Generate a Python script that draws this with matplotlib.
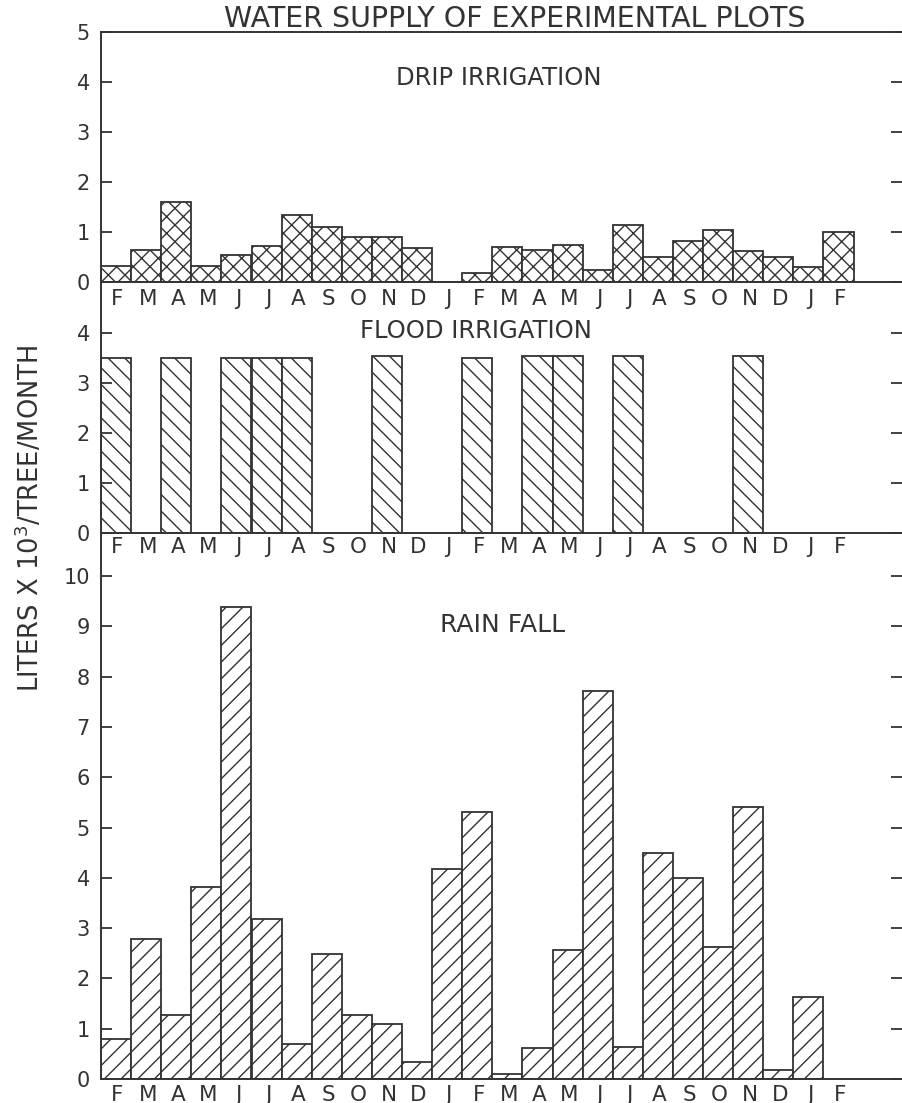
import numpy as np
import matplotlib
matplotlib.use("Agg")
import matplotlib.pyplot as plt

# ---------------- data ----------------
months = ["F", "M", "A", "M", "J", "J", "A", "S", "O", "N", "D", "J",
          "F", "M", "A", "M", "J", "J", "A", "S", "O", "N", "D", "J", "F"]

drip = [0.32, 0.64, 1.60, 0.32, 0.55, 0.73, 1.34, 1.11, 0.91, 0.91, 0.68, 0.0,
        0.19, 0.71, 0.65, 0.75, 0.25, 1.14, 0.50, 0.83, 1.05, 0.63, 0.51, 0.31, 1.00]

flood_idx = [0, 2, 4, 5, 6, 9, 12, 14, 15, 17, 21]
flood_val = [3.5, 3.5, 3.5, 3.5, 3.5, 3.55, 3.5, 3.55, 3.55, 3.55, 3.55]

rain = [0.80, 2.78, 1.28, 3.81, 9.39, 3.18, 0.69, 2.48, 1.28, 1.09, 0.33, 4.18,
        5.30, 0.09, 0.62, 2.56, 7.72, 0.63, 4.49, 4.00, 2.63, 5.41, 0.17, 1.63]

# ---------------- style ----------------
INK = "#333333"
plt.rcParams["font.family"] = ["DejaVu Sans"]
plt.rcParams["hatch.linewidth"] = 1.0
plt.rcParams["axes.linewidth"] = 1.4

W, H = 902, 1103
fig = plt.figure(figsize=(W / 100, H / 100), dpi=100)

left_px, right_px = 101, 902
bar_px = 30.1
xmax = (right_px - left_px) / bar_px


def make_ax(top_px, bot_px, ymax, xpad):
    ax = fig.add_axes([left_px / W, 1 - bot_px / H,
                       (right_px - left_px) / W, (bot_px - top_px) / H])
    ax.set_xlim(0, xmax)
    ax.set_ylim(0, ymax)
    ax.spines["right"].set_visible(False)
    ax.spines["top"].set_visible(False)
    for s in ax.spines.values():
        s.set_color(INK)
    ax.set_xticks(np.arange(len(months)) + 0.55)
    ax.set_xticklabels(months)
    ax.tick_params(axis="x", length=0, pad=xpad, labelsize=15.5, colors=INK)
    ax.tick_params(axis="y", which="major", direction="in", left=True,
                   right=True, length=8, width=1.3, colors=INK,
                   labelsize=15, pad=8)
    ax.patch.set_alpha(0)
    return ax


# Drip irrigation
ax1 = make_ax(32, 282, 5.0, 5)
ax1.spines["top"].set_visible(True)
ax1.set_yticks(range(0, 6))
ax1.bar(np.arange(len(drip)), drip, width=1.0, align="edge",
        facecolor="white", edgecolor=INK, linewidth=1.3, hatch="xx")
fig.text(499 / W, 1 - 85 / H, "DRIP IRRIGATION", ha="center", va="baseline",
         fontsize=17.5, color=INK)

# Flood irrigation
ax2 = make_ax(282, 533, 251 / 50.0, 3)
ax2.set_yticks(range(0, 5))
ax2.bar(flood_idx, flood_val, width=1.0, align="edge",
        facecolor="white", edgecolor=INK, linewidth=1.3, hatch="\\\\")
fig.text(476 / W, 1 - 338 / H, "FLOOD IRRIGATION", ha="center", va="baseline",
         fontsize=17.5, color=INK)

# Rain fall
ax3 = make_ax(533, 1079, 546 / 50.3, 4)
ax3.set_yticks(range(0, 11))
ax3.bar(np.arange(len(rain)), rain, width=1.0, align="edge",
        facecolor="white", edgecolor=INK, linewidth=1.3, hatch="//")
fig.text(503 / W, 1 - 632 / H, "RAIN FALL", ha="center", va="baseline",
         fontsize=18, color=INK)

# Title and y label
fig.text(515 / W, 1 - 27 / H, "WATER SUPPLY OF EXPERIMENTAL PLOTS",
         ha="center", va="baseline", fontsize=20.5, color=INK)
fig.text(30 / W, 1 - 518 / H, "LITERS X 10$^3$/TREE/MONTH", rotation=90,
         ha="center", va="center", fontsize=18.5, color=INK)

fig.savefig("out.png", dpi=100, facecolor="white")
